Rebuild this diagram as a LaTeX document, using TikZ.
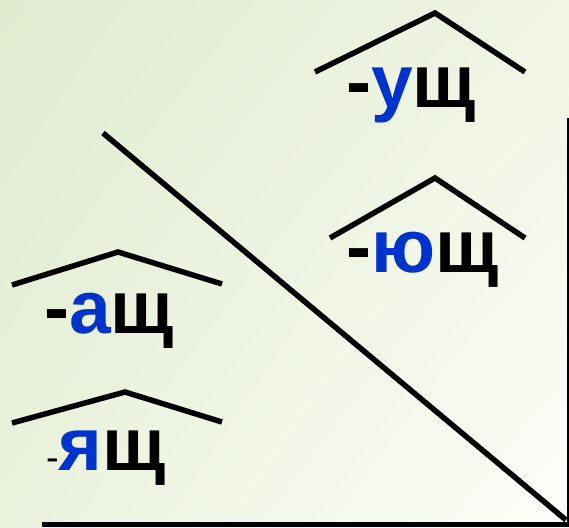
\documentclass[tikz,border=0pt]{standalone}
\usepackage{fontspec}
\setmainfont{Liberation Sans}
\usetikzlibrary{shadings}
\definecolor{sblue}{RGB}{0,51,204}
\definecolor{bgUL}{RGB}{224,235,208}
\definecolor{bgUR}{RGB}{240,245,228}
\definecolor{bgLL}{RGB}{234,242,220}
\definecolor{bgLR}{RGB}{253,254,250}
\begin{document}
\begin{tikzpicture}[x=1pt,y=-1pt,
  roof/.style={line width=5.5pt},
  axis/.style={line width=5.5pt},
  suffix/.style={anchor=base west, inner sep=0pt, font=\fontsize{75}{75}\selectfont\bfseries}]
\useasboundingbox (0,0) rectangle (569,527);
\shade[upper left=bgUL, upper right=bgUR, lower left=bgLL, lower right=bgLR] (0,0) rectangle (569,527);
% lines
\coordinate (d1) at (103,133);
\coordinate (d2) at (566,520);
\coordinate (v1) at (567.5,118);
\coordinate (v2) at (567.5,527);
\coordinate (b1) at (42,524.5);
\coordinate (b2) at (569,524.5);
\draw[axis] (d1) -- (d2);
\draw[line width=2pt] (v1) -- (v2);
\draw[axis] (b1) -- (b2);
% roofs
\draw[roof] (315,72) -- (435,13) -- (525,72);
\draw[roof] (330,238) -- (435,178) -- (525,238);
\draw[roof] (12,285) -- (118,252) -- (222,284);
\draw[roof] (12,423) -- (125,392) -- (222,422);
% texts
\node[suffix] (ush) at (346,107) {-{\color{sblue}у}щ};
\node[suffix] (yush) at (346,272) {-{\color{sblue}ю}щ};
\node[suffix] (ash) at (44,333) {-{\color{sblue}а}щ};
\node[suffix] (yash) at (46,470) {{\fontsize{38}{38}\selectfont\mdseries -}{\color{sblue}я}щ};
\end{tikzpicture}
\end{document}
